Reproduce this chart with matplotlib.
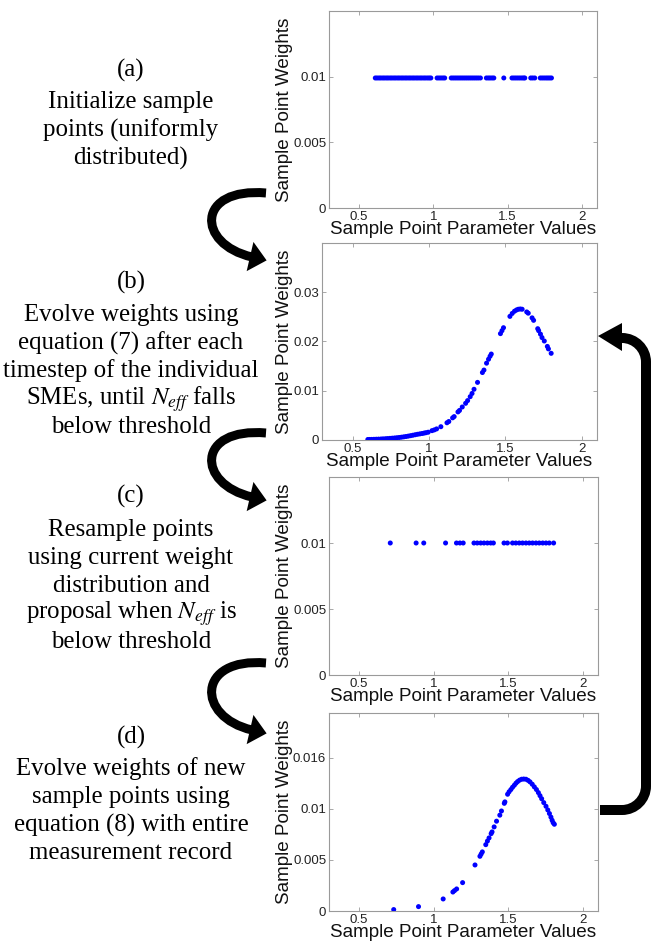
import numpy as np
import matplotlib
matplotlib.use("Agg")
import matplotlib.pyplot as plt
from matplotlib.path import Path
from matplotlib.patches import PathPatch, Polygon

# ---------------- data ----------------
# (a) initial uniformly distributed sample points (equal weights)
a_x = [0.611, 0.623, 0.636, 0.648, 0.661, 0.673, 0.686, 0.698, 0.711, 0.723, 0.736, 0.748,
       0.761, 0.773, 0.786, 0.798, 0.811, 0.823, 0.836, 0.848, 0.861, 0.873, 0.886, 0.898,
       0.911, 0.923, 0.936, 0.948, 0.961, 0.973, 0.984,
       1.026, 1.039, 1.052, 1.065, 1.077,
       1.121, 1.134, 1.147, 1.160, 1.173, 1.186, 1.199, 1.212, 1.225, 1.238, 1.251, 1.264,
       1.277, 1.290, 1.303, 1.317,
       1.357, 1.370, 1.382, 1.395, 1.407,
       1.474,
       1.529, 1.542, 1.555, 1.568, 1.581, 1.594, 1.606, 1.615,
       1.655, 1.668, 1.682,
       1.719, 1.732, 1.745, 1.758, 1.770, 1.782, 1.794]
a_w = 0.0099

# (b) evolved weights
b_x = [0.600, 0.612, 0.625, 0.640, 0.655, 0.670, 0.686, 0.700, 0.716, 0.730, 0.745, 0.760,
       0.775, 0.790, 0.805, 0.820, 0.835, 0.850, 0.865, 0.880, 0.895, 0.910, 0.925, 0.940,
       0.955, 0.968, 0.980, 0.995, 1.020, 1.035, 1.050, 1.078, 1.118, 1.130, 1.155, 1.165,
       1.190, 1.200, 1.218, 1.240, 1.253, 1.270, 1.282, 1.295, 1.318, 1.350, 1.360, 1.377,
       1.390, 1.400, 1.408, 1.468, 1.478, 1.488, 1.530, 1.545, 1.560, 1.573, 1.585, 1.598,
       1.610, 1.640, 1.650, 1.675, 1.685, 1.712, 1.718, 1.730, 1.740, 1.755, 1.775, 1.782,
       1.800]
b_w = [0.00010, 0.00011, 0.00012, 0.00014, 0.00016, 0.00018, 0.00020, 0.00023, 0.00026,
       0.00029, 0.00033, 0.00037, 0.00041, 0.00046, 0.00051, 0.00057, 0.00064, 0.00071,
       0.00079, 0.00088, 0.00097, 0.00107, 0.00116, 0.00124, 0.00132, 0.00140, 0.00148,
       0.00158, 0.00190, 0.00205, 0.00225, 0.00270, 0.00350, 0.00375, 0.00450, 0.00475,
       0.00570, 0.00600, 0.00670, 0.00745, 0.00800, 0.00880, 0.00945, 0.01030, 0.01170,
       0.01370, 0.01420, 0.01560, 0.01640, 0.01700, 0.01745, 0.02160, 0.02220, 0.02280,
       0.02510, 0.02570, 0.02615, 0.02640, 0.02655, 0.02660, 0.02655, 0.02600, 0.02575,
       0.02480, 0.02430, 0.02260, 0.02220, 0.02150, 0.02080, 0.02010, 0.01900, 0.01850,
       0.01760]

# (c) resampled points (equal weights)
c_x = [0.710, 0.883, 0.934, 1.080, 1.153, 1.176, 1.198, 1.270, 1.292, 1.315, 1.337, 1.360,
       1.382, 1.400, 1.471, 1.494, 1.528, 1.550, 1.573, 1.595, 1.618, 1.640, 1.662, 1.685,
       1.707, 1.730, 1.752, 1.774, 1.803]
c_w = 0.01

# (d) evolved weights of new sample points
d_x = [0.733, 0.899, 1.064, 1.129, 1.140, 1.154, 1.194, 1.277, 1.310, 1.318, 1.326, 1.349,
       1.360, 1.371, 1.385, 1.391, 1.405, 1.421, 1.443, 1.454, 1.473, 1.477, 1.495, 1.505,
       1.517, 1.528, 1.540, 1.551, 1.562, 1.575, 1.589, 1.603, 1.618, 1.632, 1.645, 1.660,
       1.674, 1.688, 1.701, 1.712, 1.723, 1.737, 1.752, 1.764, 1.775, 1.785, 1.793, 1.800,
       1.808]
d_w = [0.00014, 0.00043, 0.00118, 0.00186, 0.00200, 0.00216, 0.00278, 0.00451, 0.00536,
       0.00558, 0.00579, 0.00650, 0.00685, 0.00716, 0.00758, 0.00775, 0.00824, 0.00880,
       0.00939, 0.00980, 0.01055, 0.01069, 0.01144, 0.01168, 0.01190, 0.01212, 0.01232,
       0.01252, 0.01268, 0.01282, 0.01291, 0.01293, 0.01291, 0.01280, 0.01265, 0.01242,
       0.01216, 0.01190, 0.01160, 0.01130, 0.01100, 0.01062, 0.01026, 0.00990, 0.00955,
       0.00920, 0.00889, 0.00865, 0.00850]

x_ticks = [0.5, 1, 1.5, 2]
x_ticklabels = ["0.5", "1", "1.5", "2"]
a_yticks = [0, 0.005, 0.01]
a_yticklabels = ["0", "0.005", "0.01"]
b_yticks = [0, 0.01, 0.02, 0.03]
b_yticklabels = ["0", "0.01", "0.02", "0.03"]
d_yticks = [0, 0.005, 0.01, 0.015]
d_yticklabels = ["0", "0.005", "0.01", "0.016"]

xlabel = "Sample Point Parameter Values"
ylabel = "Sample Point Weights"

step_tags = ["(a)", "(b)", "(c)", "(d)"]
step_texts = [
    "Initialize sample\npoints (uniformly\ndistributed)",
    "Evolve weights using\nequation (7) after each\ntimestep of the individual\nSMEs, until $N_{eff}$ falls\nbelow threshold",
    "Resample points\nusing current weight\ndistribution and\nproposal when $N_{eff}$ is\nbelow threshold",
    "Evolve weights of new\nsample points using\nequation (8) with entire\nmeasurement record",
]

# ---------------- figure ----------------
W, H = 654, 946
DPI = 100
plt.rcParams["mathtext.fontset"] = "stix"
fig = plt.figure(figsize=(W / DPI, H / DPI), dpi=DPI)

def px_axes(left, top, right, bottom):
    return fig.add_axes([left / W, 1 - bottom / H, (right - left) / W, (bottom - top) / H])

axis_col = "#9a9a9a"
tick_col = "#222222"
sans = "Liberation Sans"

def style(ax, ylim, yticks, yticklabels):
    ax.set_xlim(0.3, 2.1)
    ax.set_ylim(*ylim)
    ax.set_xticks(x_ticks)
    ax.set_xticklabels(x_ticklabels)
    ax.set_yticks(yticks)
    ax.set_yticklabels(yticklabels)
    for s in ax.spines.values():
        s.set_color(axis_col)
        s.set_linewidth(0.8)
    ax.tick_params(direction="in", length=3, width=0.6, color=axis_col,
                   top=True, right=True, labelsize=9.5, labelcolor=tick_col, pad=2)
    for lab in ax.get_xticklabels() + ax.get_yticklabels():
        lab.set_fontfamily(sans)
    ax.set_xlabel(xlabel, fontsize=13.6, family=sans, color="#111111", labelpad=-1)
    ax.set_ylabel(ylabel, fontsize=13.6, family=sans, color="#111111", labelpad=0)

dot = dict(s=13, color="#0000ff", edgecolors="none", zorder=3)

ax_a = px_axes(329, 11, 597, 208)
ax_a.scatter(a_x, [a_w] * len(a_x), **dot)
style(ax_a, (0, 0.015), a_yticks, a_yticklabels)

ax_b = px_axes(322, 243, 597, 440)
ax_b.scatter(b_x, b_w, **dot)
style(ax_b, (0, 0.04), b_yticks, b_yticklabels)

ax_c = px_axes(329, 477, 598, 675)
ax_c.scatter(c_x, [c_w] * len(c_x), **dot)
style(ax_c, (0, 0.015), a_yticks, a_yticklabels)

ax_d = px_axes(329, 713, 598, 911)
ax_d.scatter(d_x, d_w, **dot)
style(ax_d, (0, 0.0194), d_yticks, d_yticklabels)

# ---------------- overlay for text and arrows ----------------
ov = fig.add_axes([0, 0, 1, 1], zorder=5)
ov.set_xlim(0, W)
ov.set_ylim(H, 0)
ov.axis("off")
ov.patch.set_alpha(0)

serif = "Liberation Serif"
tag_y = [70, 282, 496, 737]
text_y = [102, 315, 530, 769]
line_h = 28
fs_txt = 17.9
for tag, txt, ty, y0 in zip(step_tags, step_texts, tag_y, text_y):
    ov.text(131, ty, tag, ha="center", va="center", fontsize=fs_txt, family=serif)
    for i, line in enumerate(txt.split("\n")):
        ov.text(131, y0 + i * line_h, line, ha="center", va="center",
                fontsize=fs_txt, family=serif)

def c_arrow(y_tail, y_tip):
    # curved "C" arrow bulging left
    lw_px = 9
    tail = (266, y_tail)
    c1 = (196, y_tail - 6)
    c2 = (196, y_tip - 18)
    end = (252, y_tip - 5)
    path = Path([tail, c1, c2, end], [Path.MOVETO, Path.CURVE4, Path.CURVE4, Path.CURVE4])
    ov.add_patch(PathPatch(path, fill=False, lw=lw_px * 72 / DPI, color="black",
                           capstyle="butt"))
    d = np.array(end) - np.array(c2)
    d = d / np.hypot(*d)
    n = np.array([-d[1], d[0]])
    base = np.array(end) - 2 * d
    tip = base + 17 * d
    hw = 15
    ov.add_patch(Polygon([tip, base + hw * n, base - hw * n], closed=True,
                         color="black", lw=0))

c_arrow(193, 262)
c_arrow(433, 502)
c_arrow(663, 735)

# big loop arrow from (d) back to (b)
r = 24
xv = 646
yb, yt = 810, 338
verts = [(600, yb), (xv - r, yb), (xv - r * 0.45, yb), (xv, yb - r * 0.45), (xv, yb - r),
         (xv, yt + r), (xv, yt + r * 0.45), (xv - r * 0.45, yt), (xv - r, yt), (618, yt)]
codes = [Path.MOVETO, Path.LINETO, Path.CURVE4, Path.CURVE4, Path.CURVE4,
         Path.LINETO, Path.CURVE4, Path.CURVE4, Path.CURVE4, Path.LINETO]
ov.add_patch(PathPatch(Path(verts, codes), fill=False, lw=10 * 72 / DPI, color="black",
                       capstyle="butt", joinstyle="round"))
ov.add_patch(Polygon([(598, 336), (622, 323), (622, 351)], closed=True, color="black", lw=0))

fig.savefig("out.png", dpi=DPI)
